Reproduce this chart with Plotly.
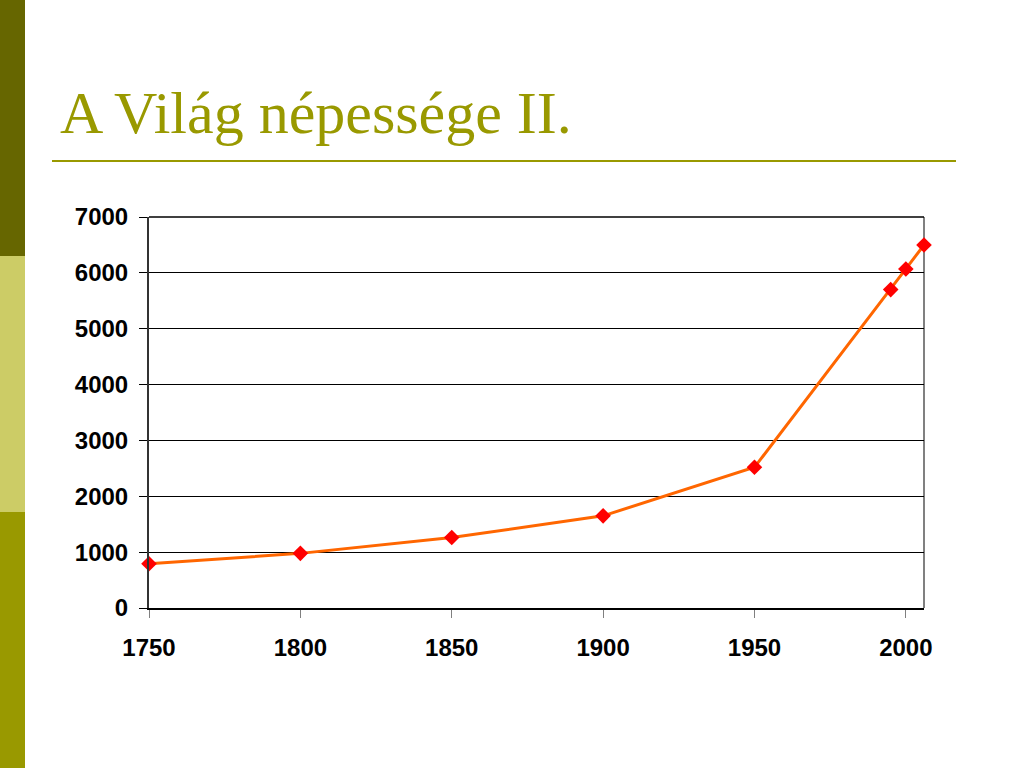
import plotly.graph_objects as go

years = [1750, 1800, 1850, 1900, 1950, 1995, 2000, 2006]
population = [791, 978, 1262, 1650, 2519, 5700, 6070, 6500]
y_ticks = [0, 1000, 2000, 3000, 4000, 5000, 6000, 7000]
x_ticks = [1750, 1800, 1850, 1900, 1950, 2000]
title_text = "A Világ népessége II."

W, H = 1024, 768
L, R, T, B = 149, 924, 217, 608
pw, ph = R - L, B - T

def px(x):
    return (x - L) / pw

def py(y):
    return (B - y) / ph

fig = go.Figure()
fig.add_trace(go.Scatter(
    x=years, y=population, mode="lines+markers",
    line=dict(color="#ff6600", width=3),
    marker=dict(symbol="diamond", size=12, color="#ff0000"),
    cliponaxis=False, showlegend=False,
))

shapes = [
    dict(type="rect", xref="paper", yref="paper", x0=px(0), x1=px(25), y0=py(0), y1=py(256),
         fillcolor="#666600", line=dict(width=0), layer="below"),
    dict(type="rect", xref="paper", yref="paper", x0=px(0), x1=px(25), y0=py(256), y1=py(512),
         fillcolor="#cccc66", line=dict(width=0), layer="below"),
    dict(type="rect", xref="paper", yref="paper", x0=px(0), x1=px(25), y0=py(512), y1=py(768),
         fillcolor="#999900", line=dict(width=0), layer="below"),
    dict(type="line", xref="paper", yref="paper", x0=px(52), x1=px(956), y0=py(161), y1=py(161),
         line=dict(color="#999900", width=2)),
    dict(type="line", xref="paper", yref="paper", x0=1, x1=1, y0=0, y1=1,
         line=dict(color="#808080", width=2), layer="below"),
    dict(type="line", xref="paper", yref="paper", x0=0, x1=1, y0=1, y1=1,
         line=dict(color="#000000", width=1.5), layer="below"),
]

tick_font = dict(family="Liberation Sans, Arial, sans-serif", size=24, color="black", weight="bold")

fig.update_layout(
    width=W, height=H,
    margin=dict(l=L, r=W - R, t=T, b=H - B, pad=0),
    paper_bgcolor="white", plot_bgcolor="white",
    shapes=shapes,
    annotations=[dict(
        text=title_text, xref="paper", yref="paper", x=px(58), y=py(148),
        xanchor="left", yanchor="bottom", showarrow=False,
        font=dict(family="Liberation Serif, Times New Roman, serif", size=60, color="#999900"),
    )],
    xaxis=dict(
        range=[1750, 2006], tickmode="array", tickvals=x_ticks,
        ticks="outside", ticklen=8, tickcolor="#808080", tickwidth=1,
        showline=True, linecolor="#000000", linewidth=1.5,
        showgrid=False, zeroline=False,
        tickfont=tick_font,
        ticklabelstandoff=9,
    ),
    yaxis=dict(
        range=[0, 7000], tickmode="array", tickvals=y_ticks,
        ticks="outside", ticklen=8, tickcolor="#000000", tickwidth=1,
        showline=True, linecolor="#333333", linewidth=2,
        showgrid=True, gridcolor="#000000", gridwidth=1,
        zeroline=False,
        tickfont=tick_font,
        ticklabelstandoff=6,
    ),
)

fig.write_html(
    "out.html",
    config={"displayModeBar": False},
    post_script="document.body.style.margin='0';document.body.style.padding='0';",
)
